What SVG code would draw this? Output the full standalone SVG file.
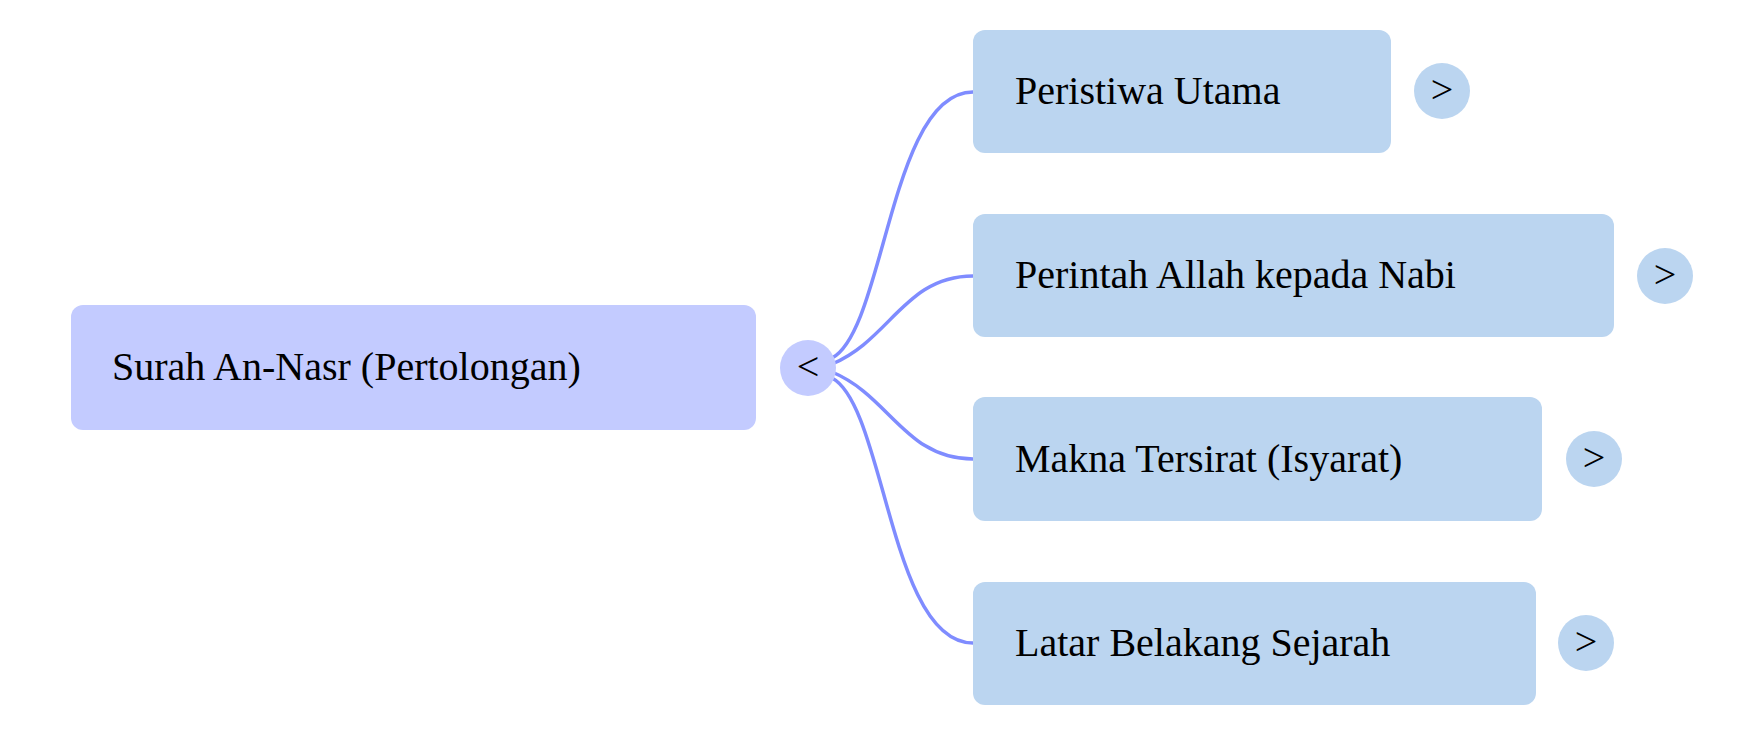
<svg xmlns="http://www.w3.org/2000/svg" width="1764" height="736" viewBox="0 0 1764 736">
<style>
.t{font-family:"Liberation Serif",serif;font-size:40px;fill:#000}
.c{fill:#bbd5f0}
.e{fill:none;stroke:#7f8cff;stroke-width:3.5}
</style>
<rect width="1764" height="736" fill="#fff"/>
<g id="connectors">
<path class="e" d="M832 358 C885 330 890 92 973 92"/>
<path class="e" d="M832 364 C890 340 905 276 973 276"/>
<path class="e" d="M832 372 C890 396 905 459 973 459"/>
<path class="e" d="M832 378 C885 406 890 643 973 643"/>
</g>
<g id="root">
<rect x="71" y="305" width="685" height="125" rx="12" fill="#c3cbff"/>
<text class="t" x="112" y="380">Surah An-Nasr (Pertolongan)</text>
<circle cx="808" cy="368" r="28" fill="#c3cbff"/>
<text class="t" x="808" y="380" text-anchor="middle">&lt;</text>
</g>
<g id="n1">
<rect class="c" x="973" y="30" width="418" height="123" rx="12"/>
<text class="t" x="1015" y="104">Peristiwa Utama</text>
<circle class="c" cx="1442" cy="91" r="28"/>
<text class="t" x="1442" y="103" text-anchor="middle">&gt;</text>
</g>
<g id="n2">
<rect class="c" x="973" y="214" width="641" height="123" rx="12"/>
<text class="t" x="1015" y="288">Perintah Allah kepada Nabi</text>
<circle class="c" cx="1665" cy="276" r="28"/>
<text class="t" x="1665" y="288" text-anchor="middle">&gt;</text>
</g>
<g id="n3">
<rect class="c" x="973" y="397" width="569" height="124" rx="12"/>
<text class="t" x="1015" y="472">Makna Tersirat (Isyarat)</text>
<circle class="c" cx="1594" cy="459" r="28"/>
<text class="t" x="1594" y="471" text-anchor="middle">&gt;</text>
</g>
<g id="n4">
<rect class="c" x="973" y="582" width="563" height="123" rx="12"/>
<text class="t" x="1015" y="656">Latar Belakang Sejarah</text>
<circle class="c" cx="1586" cy="643" r="28"/>
<text class="t" x="1586" y="655" text-anchor="middle">&gt;</text>
</g>
</svg>
